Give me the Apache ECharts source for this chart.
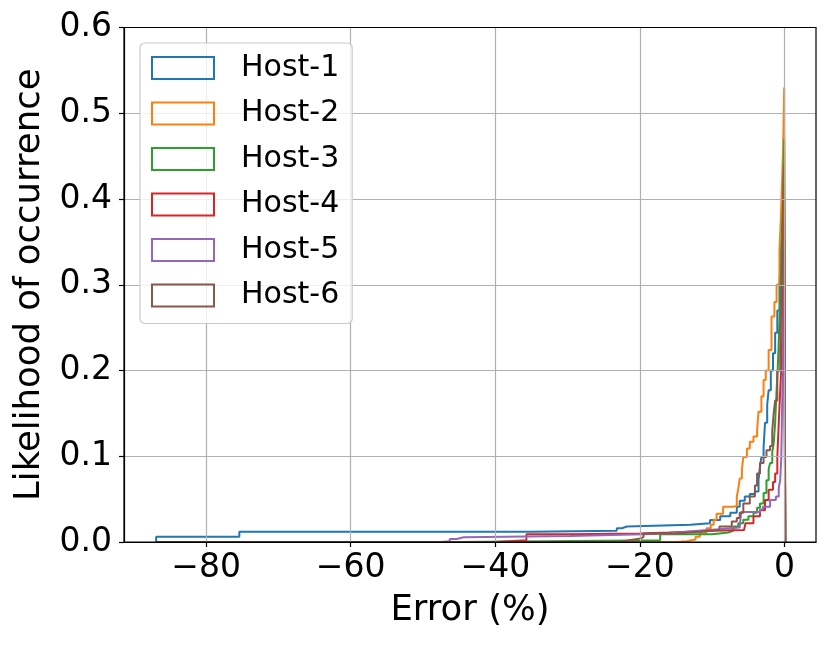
<!DOCTYPE html>
<html><head><meta charset="utf-8">
<script src="https://cdn.jsdelivr.net/npm/echarts@6/dist/echarts.min.js"></script>
<style>html,body{margin:0;padding:0;background:#fff}#c{width:830px;height:645px}</style>
</head><body><div id="c"></div>
<script>
const seriesNames = ['Host-1','Host-2','Host-3','Host-4','Host-5','Host-6'];
const colors = ['#1f77b4','#ff7f0e','#2ca02c','#d62728','#9467bd','#8c564b'];
const xTicks = [-80,-60,-40,-20,0];
const yTicks = [0,0.1,0.2,0.3,0.4,0.5,0.6];

const host1 = [[-86.9,0],[-86.9,0.006],[-75.4,0.012],[-35,0.013],[-23.2,0.016],[-22.5,0.018],[-21.8,0.020],[-13,0.022],[-10.3,0.0256],[-8.9,0.030],[-7.5,0.034],[-6.6,0.041],[-6.2,0.048],[-5.5,0.053],[-4.8,0.056],[-4.1,0.059],[-3.6,0.072],[-3.4,0.088],[-3.2,0.099],[-2.9,0.11],[-2.7,0.139],[-2.4,0.16],[-2.2,0.177],[-1.9,0.2],[-1.6,0.22],[-1.3,0.244],[-1.0,0.27],[-0.7,0.30],[-0.5,0.34],[-0.35,0.37],[-0.2,0.40],[-0.1,0.42],[0.1,0]];
const host2 = [[-86.9,0],[-14.9,0.001],[-13.5,0.003],[-12.3,0.006],[-11.7,0.011],[-10.8,0.016],[-10.2,0.020],[-9.8,0.026],[-9.4,0.033],[-8.5,0.041],[-7.1,0.042],[-6.6,0.053],[-6.4,0.062],[-6.2,0.074],[-5.9,0.085],[-5.7,0.099],[-5.2,0.109],[-4.8,0.117],[-4.3,0.123],[-3.8,0.13],[-3.6,0.152],[-3.2,0.17],[-2.9,0.189],[-2.6,0.2],[-2.2,0.224],[-1.8,0.263],[-1.4,0.28],[-1.1,0.30],[-0.7,0.34],[-0.5,0.38],[-0.3,0.43],[-0.15,0.48],[-0.05,0.53],[0.1,0]];
const host3 = [[-86.9,0],[-45,0.002],[-17.2,0.009],[-10,0.011],[-7.8,0.013],[-7.1,0.018],[-6.4,0.022],[-5.7,0.026],[-5.0,0.030],[-4.3,0.034],[-3.8,0.040],[-3.4,0.045],[-2.9,0.057],[-2.5,0.072],[-2.2,0.085],[-2.0,0.092],[-1.7,0.105],[-1.5,0.115],[-1.3,0.139],[-1.1,0.177],[-0.9,0.21],[-0.7,0.26],[-0.5,0.31],[-0.3,0.37],[-0.15,0.42],[-0.05,0.47],[0.1,0]];
const host4 = [[-86.9,0],[-40,0.002],[-35.7,0.009],[-29.7,0.010],[-20,0.011],[-16,0.013],[-10,0.014],[-5.6,0.016],[-5.4,0.022],[-4.3,0.030],[-3.4,0.037],[-2.7,0.049],[-2.2,0.061],[-1.6,0.07],[-1.3,0.08],[-1.0,0.099],[-0.8,0.139],[-0.6,0.177],[-0.4,0.21],[-0.25,0.27],[-0.15,0.33],[-0.05,0.40],[0.1,0]];
const host5 = [[-86.9,0],[-47.6,0.001],[-46.3,0.0035],[-45.3,0.0055],[-44.4,0.007],[-29.7,0.009],[-19.5,0.010],[-16,0.012],[-13.5,0.013],[-12,0.015],[-9,0.017],[-6.2,0.019],[-6.0,0.035],[-3.4,0.038],[-3.0,0.041],[-2.0,0.049],[-1.2,0.053],[-0.8,0.063],[-0.6,0.072],[-0.45,0.099],[-0.35,0.15],[-0.25,0.2],[-0.15,0.26],[-0.05,0.33],[0.1,0]];
const host6 = [[-86.9,0],[-22.7,0.002],[-21.5,0.004],[-19.9,0.006],[-19.5,0.010],[-15,0.012],[-11.7,0.014],[-9,0.018],[-7.3,0.024],[-6.6,0.028],[-6.2,0.034],[-5.7,0.045],[-4.8,0.053],[-4.1,0.066],[-3.8,0.080],[-3.4,0.092],[-2.9,0.099],[-2.5,0.107],[-2.0,0.112],[-1.7,0.13],[-1.5,0.15],[-1.3,0.165],[-1.0,0.2],[-0.6,0.224],[-0.4,0.30],[-0.25,0.36],[-0.1,0.44],[0.1,0]];
const hostData = [host1,host2,host3,host4,host5,host6];

const FONT = 'DejaVu Sans';
const chart = echarts.init(document.getElementById('c'), null, {renderer:'canvas'});
const gridColor = '#b0b0b0';
chart.setOption({
  animation:false,
  backgroundColor:'#fff',
  grid:{left:124,right:14,top:27.5,bottom:103,show:true,borderColor:'#000',borderWidth:1.2,backgroundColor:'transparent',z:6},
  legend:{
    orient:'vertical',left:140,top:43,z:20,
    padding:[10,13,13,11],
    itemWidth:62,itemHeight:22,itemGap:15.5,
    backgroundColor:'rgba(255,255,255,0.8)',borderColor:'#cccccc',borderWidth:1.2,borderRadius:5,
    textStyle:{fontFamily:FONT,fontSize:30,color:'#000',lineHeight:30,padding:[0,0,0,22]},
    data:seriesNames.map((n,i)=>({name:n,icon:'rect',itemStyle:{color:'rgba(0,0,0,0)',borderColor:colors[i],borderWidth:2}}))
  },
  xAxis:{
    type:'value',min:-91.35,max:4.35,z:5,
    name:'Error (%)',nameLocation:'middle',nameGap:51,
    nameTextStyle:{fontFamily:FONT,fontSize:35.5,color:'#000'},
    axisLine:{show:true,onZero:false,lineStyle:{color:'#000',width:1.2}},
    axisTick:{show:true,length:5,inside:false,customValues:xTicks,lineStyle:{color:'#000',width:1.2}},
    axisLabel:{customValues:xTicks,fontFamily:FONT,fontSize:33,color:'#000',margin:10,
      formatter:v=>v===0?'0':(v<0?'\u2212'+Math.abs(v):String(v))},
    splitLine:{show:true,lineStyle:{color:gridColor,width:1.2}}
  },
  yAxis:{
    type:'value',min:0,max:0.6,interval:0.1,z:5,
    name:'Likelihood of occurrence',nameLocation:'middle',nameGap:76,
    nameTextStyle:{fontFamily:FONT,fontSize:35.5,color:'#000'},
    axisLine:{show:true,onZero:false,lineStyle:{color:'#000',width:1.2}},
    axisTick:{show:true,length:5,lineStyle:{color:'#000',width:1.2}},
    axisLabel:{fontFamily:FONT,fontSize:33,color:'#000',margin:12,formatter:v=>v.toFixed(1)},
    splitLine:{show:true,lineStyle:{color:gridColor,width:1.2}}
  },
  series:hostData.map((d,i)=>({
    name:seriesNames[i],type:'line',step:'end',data:d,showSymbol:false,symbol:'none',
    color:colors[i],lineStyle:{color:colors[i],width:2},itemStyle:{color:colors[i]},
    clip:true
  }))
});
</script></body></html>
